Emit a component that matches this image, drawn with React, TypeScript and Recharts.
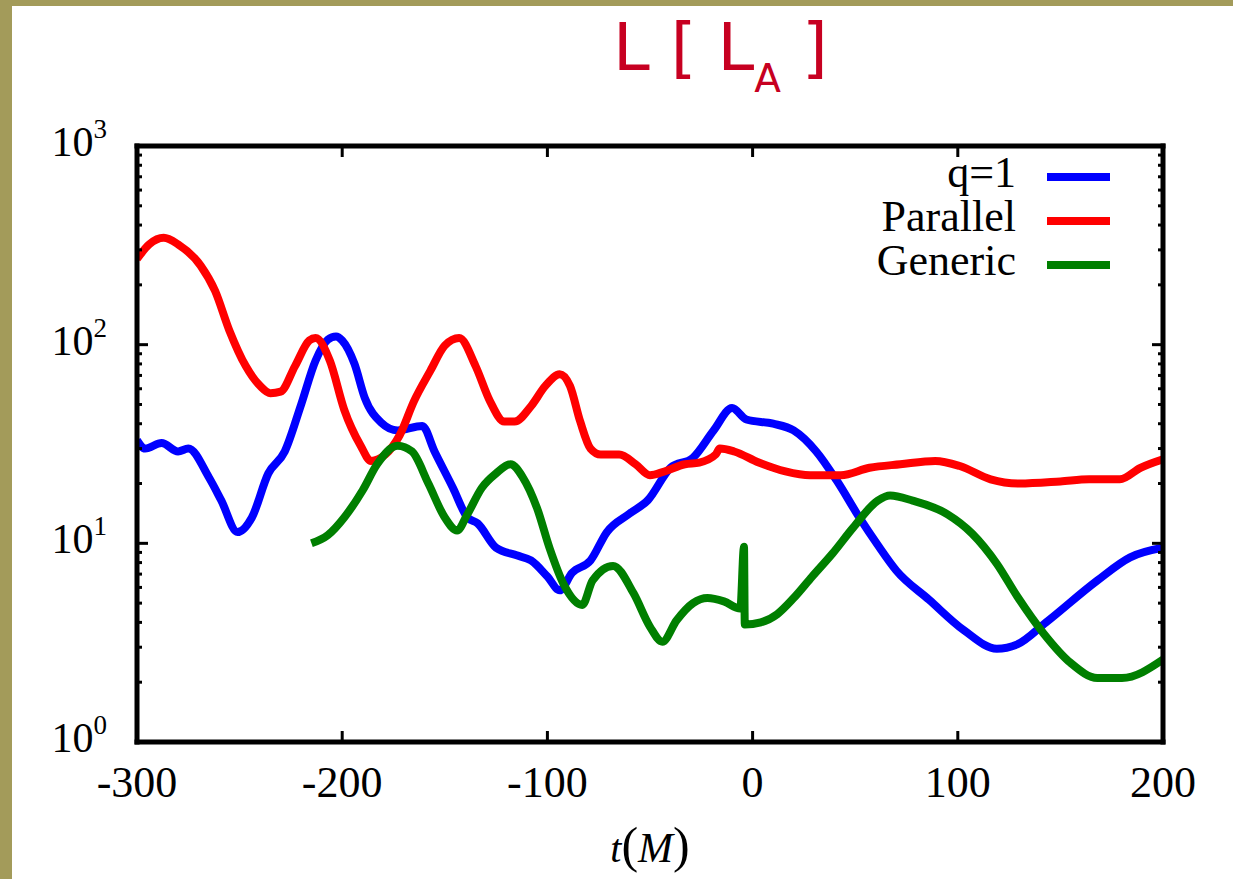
import React from 'react';
import { LineChart, Line, XAxis, YAxis, Legend } from 'recharts';

// time axis (M) and luminosity values (L_A)
const q1Time = [-300, -296, -288, -280, -275, -265, -259, -251, -244, -236, -228, -220, -213, -207, -203, -200, -194, -189, -181, -173, -161, -155, -146, -139, -134, -125, -115, -108, -100, -94, -88, -79, -71, -60, -51, -40, -29, -19, -10, -3, 10, 20, 31, 41, 52, 61, 70, 86, 103, 119, 129, 143, 168, 184, 200];
const q1Vals = [33, 30, 32, 29, 30, 21.5, 16.5, 11.4, 13.5, 22.5, 29, 50, 83, 106, 110, 105, 80, 54, 40.5, 37, 39, 29, 19, 13.5, 12.6, 9.5, 8.7, 8.2, 6.8, 5.8, 7.1, 8.2, 11.4, 14.1, 16.5, 24, 27, 37, 48, 42, 40, 37, 29, 20.7, 13.5, 9.8, 7.3, 5.2, 3.65, 2.95, 3.1, 4.0, 6.5, 8.5, 9.5];

const parTime = [-300, -294, -287, -280, -269, -262, -255, -247, -240, -235, -230, -223, -216, -213, -206, -199, -191, -186, -179, -172, -165, -157, -150, -143, -135, -128, -121, -116, -108, -101, -94, -89, -84, -79, -74, -65, -57, -50, -43, -33, -26, -18, -16, -9, 3, 16, 28, 43, 57, 72, 89, 101, 116, 130, 150, 164, 179, 189, 200];
const parVals = [270, 320, 345, 320, 250, 187, 118, 78, 62, 57, 58, 78, 105, 108, 83, 47, 31, 26, 28, 35, 52, 74, 99, 108, 78, 52, 41, 41, 49, 62, 71, 62, 41, 30, 28, 28, 25, 22, 23, 25, 25.5, 28, 30, 29, 25.5, 23, 22, 22, 24, 25, 26, 24.5, 21, 20, 20.5, 21, 21, 24, 26.5];

const genTime = [-215, -207, -199, -190, -183, -173, -166, -158, -150, -144, -139, -132, -125, -118, -112, -105, -99, -92, -83, -78, -68, -58, -50, -44, -37, -29, -22, -14, -6, -4.2, -3.8, 4, 12, 20, 29, 39, 49, 61, 67, 78, 95, 107, 119, 129, 142, 155, 168, 180, 200];
const genVals = [10, 11, 13.5, 18.5, 25, 31, 29, 20, 13.5, 11.6, 14, 19, 22.5, 25, 21.5, 15, 9.5, 6.2, 4.9, 6.5, 7.7, 5.6, 3.8, 3.2, 4.1, 5.0, 5.3, 5.1, 4.7, 9.6, 3.9, 4.0, 4.4, 5.3, 6.8, 8.9, 12, 16.4, 17.4, 16.4, 14, 11.2, 7.9, 5.4, 3.5, 2.5, 2.1, 2.1, 2.6];

const xTicks = [-300, -200, -100, 0, 100, 200];
const majorY = [1, 10, 100, 1000];
const minorY = [2, 3, 4, 5, 6, 7, 8, 9, 20, 30, 40, 50, 60, 70, 80, 90, 200, 300, 400, 500, 600, 700, 800, 900];

const series = [
  { name: 'q=1', color: '#0000ff', time: q1Time, vals: q1Vals },
  { name: 'Parallel', color: '#ff0000', time: parTime, vals: parVals },
  { name: 'Generic', color: '#007f00', time: genTime, vals: genVals },
];

const SERIF = '"Liberation Serif", "Times New Roman", serif';
const frame = { stroke: '#000', strokeWidth: 5, strokeLinecap: 'square' as const };

function LeftTick({ x, y, payload }: any) {
  const v = payload.value;
  const major = majorY.includes(v);
  return (
    <g>
      <line x1={x} x2={x + (major ? 11 : 5)} y1={y} y2={y} stroke="#000" strokeWidth={3} />
      {major && (
        <text x={x - 30} y={y + 10} textAnchor="end" fontFamily={SERIF} fontSize={42} fill="#000">
          10<tspan dy={-18} fontSize={27}>{Math.round(Math.log10(v))}</tspan>
        </text>
      )}
    </g>
  );
}

function RightTick({ x, y, payload }: any) {
  const major = majorY.includes(payload.value);
  return <line x1={x} x2={x - (major ? 11 : 5)} y1={y} y2={y} stroke="#000" strokeWidth={3} />;
}

function BottomTick({ x, y, payload }: any) {
  return (
    <g>
      <line x1={x} x2={x} y1={y} y2={y - 11} stroke="#000" strokeWidth={3} />
      <text x={x} y={y + 55} textAnchor="middle" fontFamily={SERIF} fontSize={44} fill="#000">
        {payload.value}
      </text>
    </g>
  );
}

function TopTick({ x, y }: any) {
  return <line x1={x} x2={x} y1={y} y2={y + 11} stroke="#000" strokeWidth={3} />;
}

function AxisTitle({ viewBox }: any) {
  const cx = viewBox.x + viewBox.width / 2;
  return (
    <text x={cx} y={viewBox.y + 120} textAnchor="middle" fontFamily={SERIF} fill="#000" fontSize={40}>
      <tspan fontStyle="italic">t</tspan>
      <tspan fontSize={50}>(</tspan>
      <tspan fontStyle="italic" fontSize={42}>M</tspan>
      <tspan fontSize={50}>)</tspan>
    </text>
  );
}

function KeyBox() {
  return (
    <svg width={270} height={160}>
      {series.map((s, i) => (
        <g key={s.name}>
          <text x={156} y={47 + i * 44} textAnchor="end" fontFamily={SERIF} fontSize={44} fill="#000">
            {s.name}
          </text>
          <line x1={187} x2={250} y1={37 + i * 44} y2={37 + i * 44} stroke={s.color} strokeWidth={8} />
        </g>
      ))}
    </svg>
  );
}

export default function App() {
  return (
    <div style={{ position: 'relative', width: 1233, height: 879, background: '#a39b5a', overflow: 'hidden' }}>
      <style>{'body{margin:0}'}</style>
      <div style={{ position: 'absolute', left: 12, top: 6, right: 0, bottom: 0, background: '#fff' }} />
      <div
        style={{
          position: 'absolute',
          left: 613,
          top: 8,
          fontFamily: '"DejaVu Sans", sans-serif',
          fontSize: 66,
          color: '#c70021',
          whiteSpace: 'pre',
          lineHeight: '80px',
        }}
      >
        L [ L<sub style={{ fontSize: 39, verticalAlign: -22 }}>A</sub> ]
      </div>
      <div style={{ position: 'absolute', left: 0, top: 0 }}>
        <LineChart width={1233} height={879} margin={{ top: 145, right: 69, bottom: 77, left: 57 }}>
          <XAxis
            xAxisId="bottom"
            type="number"
            dataKey="t"
            domain={[-300, 200]}
            ticks={xTicks}
            interval={0}
            allowDataOverflow
            height={60}
            tickSize={0}
            tickMargin={0}
            tickLine={false}
            axisLine={frame}
            tick={<BottomTick />}
            label={<AxisTitle />}
          />
          <XAxis
            xAxisId="top"
            orientation="top"
            type="number"
            dataKey="t"
            domain={[-300, 200]}
            ticks={xTicks}
            interval={0}
            allowDataOverflow
            height={1}
            tickSize={0}
            tickMargin={0}
            tickLine={false}
            axisLine={frame}
            tick={<TopTick />}
          />
          <YAxis
            yAxisId="left"
            type="number"
            scale="log"
            domain={[1, 1000]}
            ticks={[...majorY, ...minorY]}
            interval={0}
            allowDataOverflow
            width={80}
            tickSize={0}
            tickMargin={0}
            tickLine={false}
            axisLine={frame}
            tick={<LeftTick />}
          />
          <YAxis
            yAxisId="right"
            orientation="right"
            type="number"
            scale="log"
            domain={[1, 1000]}
            ticks={[...majorY, ...minorY]}
            interval={0}
            allowDataOverflow
            width={1}
            tickSize={0}
            tickMargin={0}
            tickLine={false}
            axisLine={frame}
            tick={<RightTick />}
          />
          <Legend
            layout="vertical"
            align="center"
            verticalAlign="middle"
            content={<KeyBox />}
            wrapperStyle={{ position: 'absolute', left: 860, top: 140, width: 270, height: 160 }}
          />
          {series.map(s => (
            <Line
              key={s.name}
              name={s.name}
              xAxisId="bottom"
              yAxisId="left"
              data={s.time.map((t, i) => ({ t, v: s.vals[i] }))}
              dataKey="v"
              type="monotone"
              stroke={s.color}
              strokeWidth={8}
              dot={false}
              activeDot={false}
              isAnimationActive={false}
            />
          ))}
        </LineChart>
      </div>
    </div>
  );
}
